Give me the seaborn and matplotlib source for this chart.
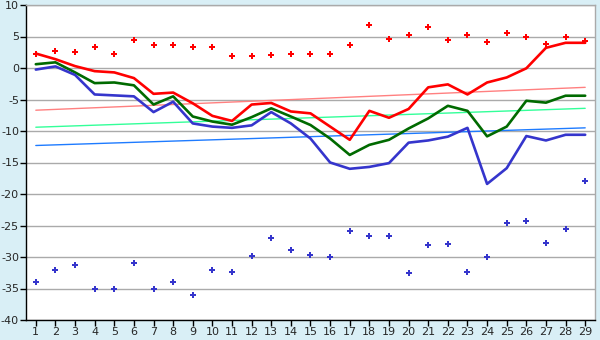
import numpy as np
import pandas as pd
import matplotlib
matplotlib.use("Agg")
import matplotlib.pyplot as plt
import seaborn as sns

sns.set_style("white")
plt.rcParams['font.family'] = ['DejaVu Sans']
plt.rcParams['axes.unicode_minus'] = False

days = list(range(1, 30))

# top scatter (red crosses)
red_pts = [2.3, 2.7, 2.5, 3.4, 2.3, 4.4, 3.6, 3.6, 3.3, 3.3, 1.85, 1.85, 2.0, 2.2, 2.2,
           2.3, 3.6, 6.8, 4.55, 5.2, 6.45, 4.4, 5.2, 4.07, 5.5, 4.87, 3.75, 4.87, 4.23]
# bottom scatter (blue crosses)
blue_pts = [-33.9, -32.1, -31.2, -35.0, -35.0, -31.0, -35.0, -33.9, -36.1, -32.1, -32.4,
            -29.9, -27.0, -28.9, -29.7, -30.05, -25.8, -26.7, -26.7, -32.6, -28.1, -27.95,
            -32.4, -30.05, -24.65, -24.35, -27.8, -25.6, -18.0]
# lines
red_line = [2.3, 1.4, 0.3, -0.5, -0.7, -1.6, -4.1, -3.9, -5.6, -7.6, -8.4, -5.8, -5.55, -6.9,
            -7.2, -9.3, -11.4, -6.8, -7.9, -6.5, -3.07, -2.6, -4.2, -2.3, -1.5, -0.05, 3.2, 4.0, 4.0]
green_line = [0.6, 0.9, -0.7, -2.4, -2.3, -2.75, -5.8, -4.5, -7.7, -8.5, -9.0, -7.8, -6.4, -7.7,
              -9.05, -11.2, -13.8, -12.2, -11.4, -9.6, -8.0, -6.0, -6.8, -10.85, -9.3, -5.2,
              -5.5, -4.4, -4.4]
blue_line = [-0.25, 0.25, -1.1, -4.2, -4.35, -4.5, -7.0, -5.35, -8.8, -9.3, -9.5, -9.1, -7.0,
             -8.8, -11.2, -15.0, -16.0, -15.7, -15.1, -11.85, -11.5, -10.9, -9.5, -18.4, -15.9,
             -10.8, -11.5, -10.6, -10.6]
# trend lines: values at first and last day
trend_days = [1, 29]
red_trend = [-6.7, -3.07]
green_trend = [-9.4, -6.4]
blue_trend = [-12.3, -9.5]

bg = "#D9EFF6"
fig = plt.figure(figsize=(6, 3.4), dpi=100, facecolor=bg)
ax = fig.add_axes([26 / 600, 20 / 340, 569 / 600, 315 / 340])
ax.set_facecolor("white")

for vals, c in [(red_trend, "#FF8080"), (green_trend, "#33FF99"), (blue_trend, "#1E7BFF")]:
    sns.lineplot(x=trend_days, y=vals, color=c, linewidth=1.0, ax=ax)

for vals, c in [(red_line, "#FF0000"), (green_line, "#006A00"), (blue_line, "#3535CC")]:
    sns.lineplot(x=days, y=vals, color=c, linewidth=1.9, ax=ax)

sns.scatterplot(x=days, y=red_pts, color="#FF0000", marker="P", s=20, linewidth=0, ax=ax)
sns.scatterplot(x=days, y=blue_pts, color="#3535CC", marker="P", s=20, linewidth=0, ax=ax)

ax.set_xlim(0.5, 29.5)
ax.set_ylim(-40, 10)
ax.set_yticks(range(-40, 11, 5))
ax.set_xticks(days)
ax.set_xticklabels([str(d) for d in days])
ax.yaxis.grid(True, color="#AAAAAA", linewidth=1)
ax.set_axisbelow(True)
for s in ["top", "right"]:
    ax.spines[s].set_color("#AAAAAA")
    ax.spines[s].set_linewidth(1)
for s in ["left", "bottom"]:
    ax.spines[s].set_color("black")
    ax.spines[s].set_linewidth(1)
ax.tick_params(axis="both", which="both", direction="out", length=4, width=1,
               color="black", labelsize=8, pad=1, left=True, bottom=True)
ax.set_xlabel("")
ax.set_ylabel("")

fig.savefig("out.png", dpi=100, facecolor=bg)
